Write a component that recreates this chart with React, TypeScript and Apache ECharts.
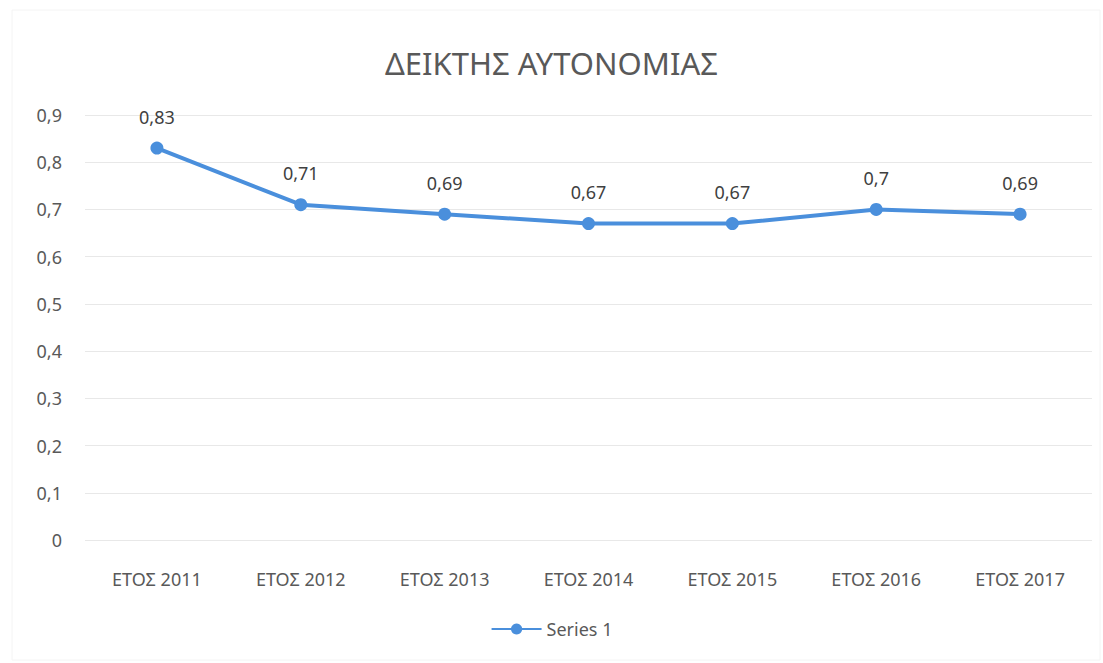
import React, { useEffect, useRef } from "react";
import * as echarts from "echarts";

const categories = ["ΕΤΟΣ 2011", "ΕΤΟΣ 2012", "ΕΤΟΣ 2013", "ΕΤΟΣ 2014", "ΕΤΟΣ 2015", "ΕΤΟΣ 2016", "ΕΤΟΣ 2017"];
const values = [0.83, 0.71, 0.69, 0.67, 0.67, 0.7, 0.69];
const yTicks = [0, 0.1, 0.2, 0.3, 0.4, 0.5, 0.6, 0.7, 0.8, 0.9];

const FONT = "'Noto Sans', 'Open Sans', sans-serif";
const fmt = (v: number) => String(v).replace(".", ",");

export default function App() {
  const ref = useRef<HTMLDivElement>(null);
  useEffect(() => {
    if (!ref.current) return;
    const chart = echarts.init(ref.current, undefined, { renderer: "svg" });
    chart.setOption({
      animation: false,
      backgroundColor: "#ffffff",
      graphic: [
        {
          type: "rect",
          shape: { x: 12, y: 10, width: 1088, height: 650 },
          style: { fill: "none", stroke: "#f4f4f4", lineWidth: 1 },
          silent: true,
        },
      ],
      title: {
        text: "ΔΕΙΚΤΗΣ ΑΥΤΟΝΟΜΙΑΣ",
        left: "center",
        top: 42,
        textStyle: { fontFamily: FONT, fontSize: 31, fontWeight: "normal", color: "#595959" },
      },
      legend: {
        bottom: 20,
        left: "center",
        itemWidth: 50,
        itemHeight: 14,
        itemGap: 6,
        textStyle: { fontFamily: FONT, fontSize: 18, color: "#595959" },
        data: ["Series 1"],
      },
      grid: { left: 85, right: 11, top: 115, bottom: 123 },
      xAxis: {
        type: "category",
        data: categories,
        boundaryGap: true,
        axisLine: { show: false },
        axisTick: { show: false },
        axisLabel: { fontFamily: FONT, fontSize: 18, color: "#595959", margin: 30 },
      },
      yAxis: {
        type: "value",
        min: 0,
        max: 0.9,
        interval: 0.1,
        axisLine: { show: false },
        axisTick: { show: false },
        axisLabel: {
          fontFamily: FONT,
          fontSize: 18,
          color: "#595959",
          margin: 23,
          formatter: (v: number) => {
            const t = yTicks.find((x) => Math.abs(x - v) < 1e-6);
            return fmt(t !== undefined ? t : Math.round(v * 10) / 10);
          },
        },
        splitLine: { lineStyle: { color: "#e8e8e8", width: 1 } },
      },
      series: [
        {
          name: "Series 1",
          type: "line",
          data: values,
          symbol: "circle",
          symbolSize: 13,
          lineStyle: { color: "#4a8fdc", width: 4 },
          itemStyle: { color: "#4a8fdc" },
          label: {
            show: true,
            position: "top",
            distance: 16,
            fontFamily: FONT,
            fontSize: 18,
            color: "#404040",
            formatter: (p: any) => fmt(p.value),
          },
        },
      ],
    });
    return () => chart.dispose();
  }, []);
  return <div ref={ref} style={{ position: "fixed", left: 0, top: 0, width: 1103, height: 663 }} />;
}
